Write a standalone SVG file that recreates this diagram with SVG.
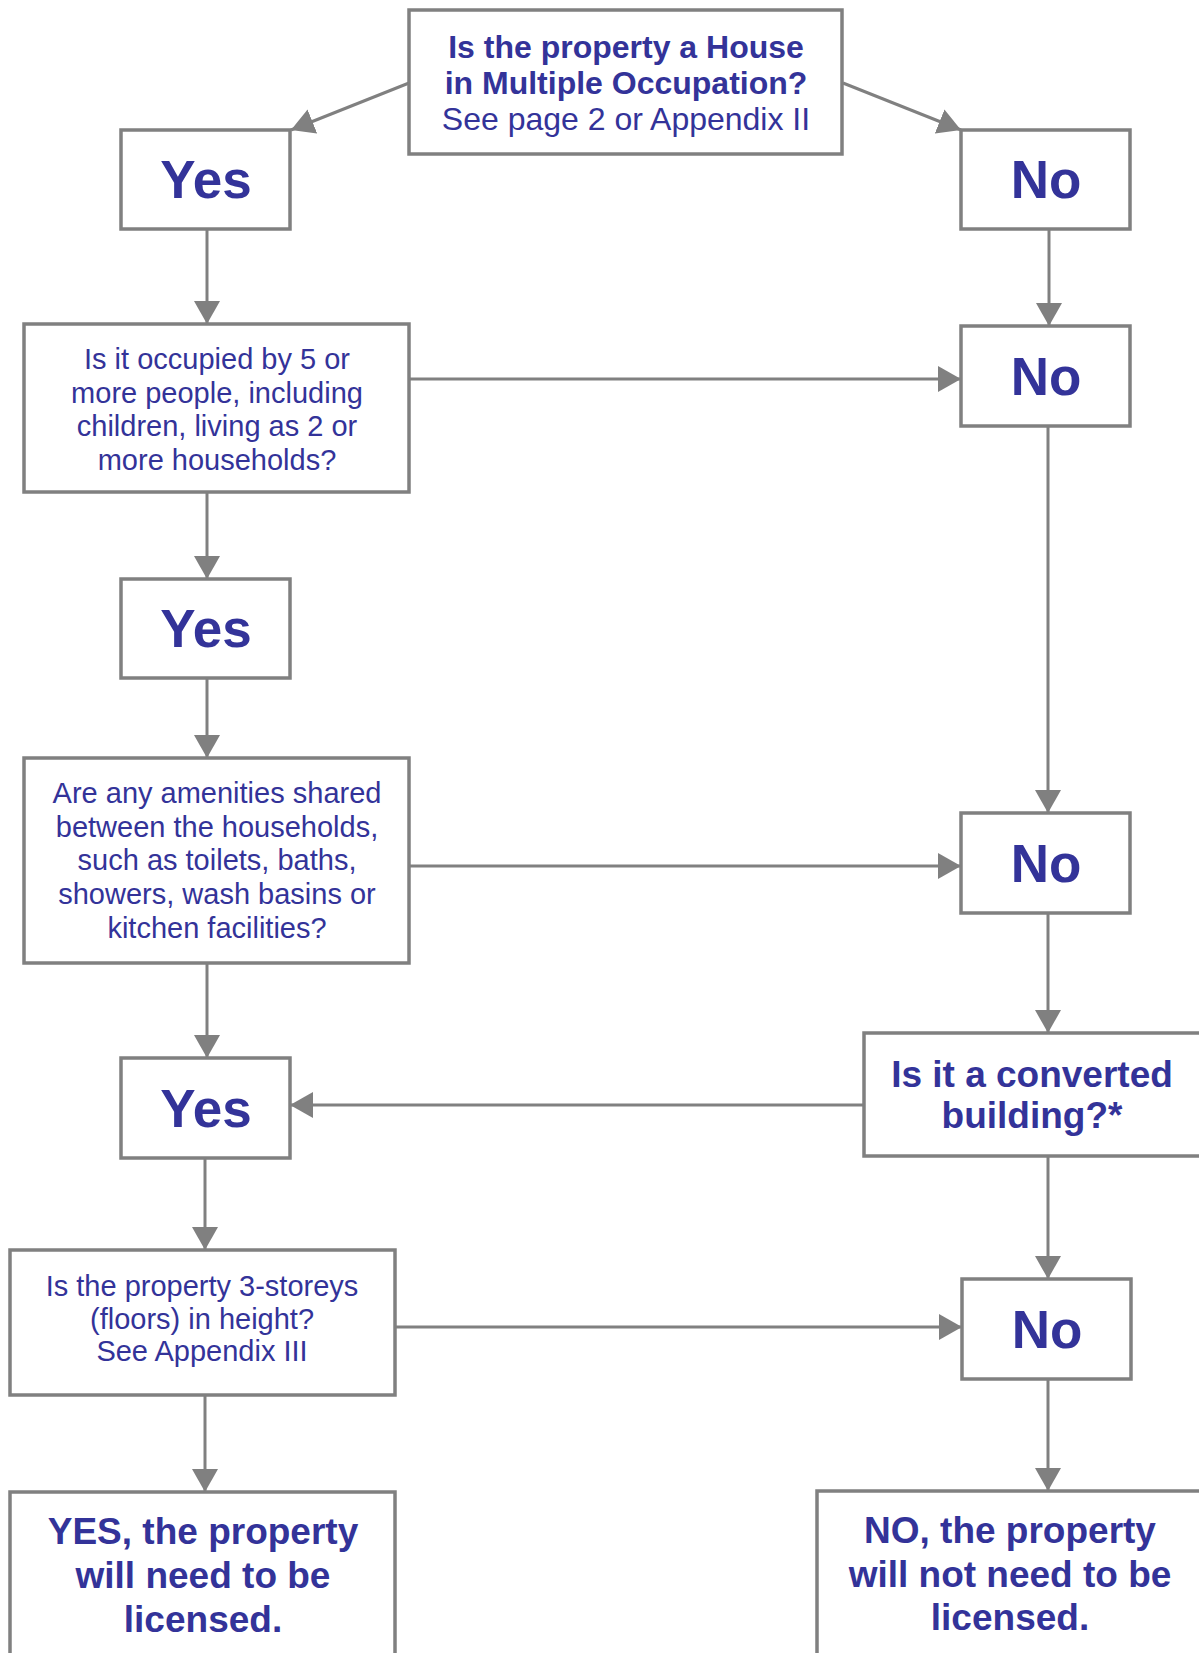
<svg xmlns="http://www.w3.org/2000/svg" width="1199" height="1653" viewBox="0 0 1199 1653">
<style>
.box{fill:#ffffff;stroke:#808080;stroke-width:3.5}
.con{fill:none;stroke:#808080;stroke-width:3;marker-end:url(#ah)}
text{fill:#333399;font-family:"Liberation Sans",Arial,Helvetica,sans-serif;text-anchor:middle}
.b{font-weight:bold}
.big{font-weight:bold;font-size:53px}
.q{font-size:29px}
.h{font-size:32px}
.f{font-weight:bold;font-size:37px}
</style>
<defs>
<marker id="ah" viewBox="0 0 23 26" refX="23" refY="13" markerWidth="23" markerHeight="26" markerUnits="userSpaceOnUse" orient="auto">
<path d="M0,0 L23,13 L0,26 Z" fill="#808080"/>
</marker>
</defs>
<rect x="0" y="0" width="1199" height="1653" fill="#ffffff"/>
<g id="connectors">
<line class="con" x1="409" y1="83" x2="291" y2="130"/>
<line class="con" x1="843" y1="83" x2="961" y2="130"/>
<line class="con" x1="207" y1="229" x2="207" y2="324"/>
<line class="con" x1="1049" y1="229" x2="1049" y2="326"/>
<line class="con" x1="409" y1="379" x2="961" y2="379"/>
<line class="con" x1="207" y1="492" x2="207" y2="579"/>
<line class="con" x1="1048" y1="426" x2="1048" y2="813"/>
<line class="con" x1="207" y1="678" x2="207" y2="758"/>
<line class="con" x1="409" y1="866" x2="961" y2="866"/>
<line class="con" x1="1048" y1="913" x2="1048" y2="1033"/>
<line class="con" x1="864" y1="1105" x2="290" y2="1105"/>
<line class="con" x1="207" y1="963" x2="207" y2="1058"/>
<line class="con" x1="205" y1="1158" x2="205" y2="1250"/>
<line class="con" x1="1048" y1="1156" x2="1048" y2="1279"/>
<line class="con" x1="395" y1="1327" x2="962" y2="1327"/>
<line class="con" x1="205" y1="1395" x2="205" y2="1492"/>
<line class="con" x1="1048" y1="1379" x2="1048" y2="1491"/>
</g>
<g id="hmo">
<rect class="box" x="409" y="10" width="433" height="144"/>
<text class="h b" x="626" y="58">Is the property a House</text>
<text class="h b" x="626" y="94">in Multiple Occupation?</text>
<text class="h" x="626" y="130">See page 2 or Appendix II</text>
</g>
<g id="yes1">
<rect class="box" x="121" y="130" width="169" height="99"/>
<text class="big" x="206" y="198">Yes</text>
</g>
<g id="no1">
<rect class="box" x="961" y="130" width="169" height="99"/>
<text class="big" x="1046" y="198">No</text>
</g>
<g id="q1">
<rect class="box" x="24" y="324" width="385" height="168"/>
<text class="q" x="217" y="369">Is it occupied by 5 or</text>
<text class="q" x="217" y="402.5">more people, including</text>
<text class="q" x="217" y="436">children, living as 2 or</text>
<text class="q" x="217" y="469.5">more households?</text>
</g>
<g id="no2">
<rect class="box" x="961" y="326" width="169" height="100"/>
<text class="big" x="1046" y="395">No</text>
</g>
<g id="yes2">
<rect class="box" x="121" y="579" width="169" height="99"/>
<text class="big" x="206" y="647">Yes</text>
</g>
<g id="q2">
<rect class="box" x="24" y="758" width="385" height="205"/>
<text class="q" x="217" y="803">Are any amenities shared</text>
<text class="q" x="217" y="836.7">between the households,</text>
<text class="q" x="217" y="870.4">such as toilets, baths,</text>
<text class="q" x="217" y="904.1">showers, wash basins or</text>
<text class="q" x="217" y="937.8">kitchen facilities?</text>
</g>
<g id="no3">
<rect class="box" x="961" y="813" width="169" height="100"/>
<text class="big" x="1046" y="882">No</text>
</g>
<g id="converted">
<rect class="box" x="864" y="1033" width="345" height="123"/>
<text class="f" x="1032" y="1086.5">Is it a converted</text>
<text class="f" x="1032" y="1128">building?*</text>
</g>
<g id="yes3">
<rect class="box" x="121" y="1058" width="169" height="100"/>
<text class="big" x="206" y="1127">Yes</text>
</g>
<g id="q3">
<rect class="box" x="10" y="1250" width="385" height="145"/>
<text class="q" x="202" y="1296">Is the property 3-storeys</text>
<text class="q" x="202" y="1328.5">(floors) in height?</text>
<text class="q" x="202" y="1361">See Appendix III</text>
</g>
<g id="no4">
<rect class="box" x="962" y="1279" width="169" height="100"/>
<text class="big" x="1047" y="1348">No</text>
</g>
<g id="yes-final">
<rect class="box" x="10" y="1492" width="385" height="180"/>
<text class="f" x="203" y="1544">YES, the property</text>
<text class="f" x="203" y="1588">will need to be</text>
<text class="f" x="203" y="1632">licensed.</text>
</g>
<g id="no-final">
<rect class="box" x="817" y="1491" width="400" height="180"/>
<text class="f" x="1010" y="1543">NO, the property</text>
<text class="f" x="1010" y="1586.5">will not need to be</text>
<text class="f" x="1010" y="1630">licensed.</text>
</g>
</svg>
